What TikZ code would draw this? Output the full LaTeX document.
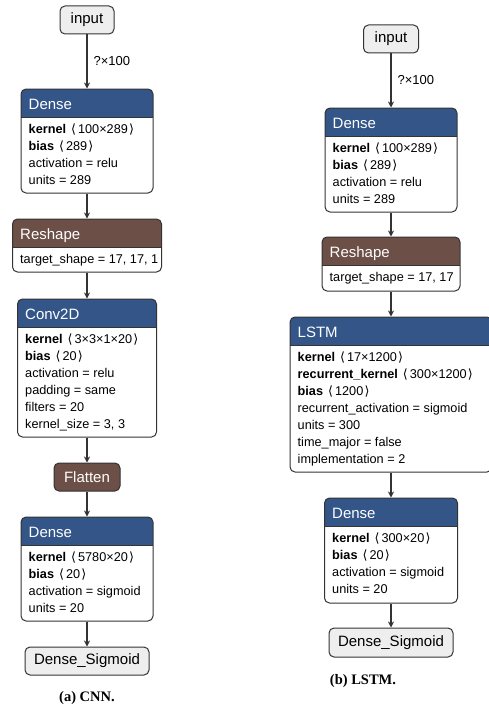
\documentclass[tikz,border=0pt]{standalone}
\usepackage{fontspec}
\setmainfont{Liberation Sans}
\newfontfamily\capfont{Liberation Serif}
\newfontfamily\brackfont{DejaVu Sans}
\usetikzlibrary{arrows.meta}

\definecolor{layerblue}{HTML}{335588}
\definecolor{shapebrown}{HTML}{6C4F47}
\definecolor{ioface}{HTML}{EEEEEE}
\definecolor{linegray}{HTML}{333333}

\newcommand{\shp}[1]{\kern1.5pt{\brackfont ⟨}\kern2pt#1\kern1.2pt{\brackfont ⟩}}
\newcommand{\attrs}[1]{\begin{tabular}[t]{@{}l@{}}#1\end{tabular}}

\tikzset{
  layer/.style={draw=linegray, line width=1pt, rounded corners=5pt, fill=white, inner sep=0pt,
    path picture={
      \fill[#1, sharp corners] (path picture bounding box.north west) rectangle ([yshift=-28pt]path picture bounding box.north east);
      \draw[linegray, line width=1pt, sharp corners] ([yshift=-28pt]path picture bounding box.north west) -- ([yshift=-28pt]path picture bounding box.north east);
    }},
  io/.style={draw=linegray, line width=1pt, rounded corners=5pt, fill=ioface, inner sep=0pt, font=\fontsize{15}{18}\selectfont},
  flat/.style={draw=linegray, line width=1pt, rounded corners=5pt, fill=shapebrown, text=white, inner sep=0pt, font=\fontsize{15}{18}\selectfont},
  title/.style={anchor=base west, text=white, inner sep=0pt, font=\fontsize{15}{18}\selectfont},
  attr/.style={anchor=base west, inner sep=0pt, font=\fontsize{12.7}{17}\selectfont},
  flow/.style={draw=linegray, line width=1.1pt, -{Stealth[length=6pt,width=6pt]}},
  dims/.style={right, inner sep=6pt, font=\fontsize{13}{16}\selectfont},
  capt/.style={inner sep=0pt, font=\capfont\bfseries\fontsize{14.5}{17}\selectfont}
}

\begin{document}
\begin{tikzpicture}[x=1pt,y=-1pt]
\useasboundingbox (0,0) rectangle (488,709);

% CNN
\begin{scope}
  \node[io, minimum width=54pt, minimum height=28pt] (cin) at (87,20) {input};

  \node[layer=layerblue, minimum width=132pt, minimum height=104pt] (cd1) at (87,141) {};
  \node[title] (cd1t) at ([xshift=8pt,yshift=-20.5pt]cd1.north west) {Dense};
  \node[attr] (cd1a) at ([xshift=8pt,yshift=-45pt]cd1.north west)
    {\attrs{\textbf{kernel} \shp{100×289}\\ \textbf{bias} \shp{289}\\ activation = relu\\ units = 289}};

  \node[layer=shapebrown, minimum width=149pt, minimum height=53pt] (crs) at (87,245.5) {};
  \node[title] (crst) at ([xshift=8pt,yshift=-20.5pt]crs.north west) {Reshape};
  \node[attr] (crsa) at ([xshift=8pt,yshift=-45pt]crs.north west) {\attrs{target\_shape = 17, 17, 1}};

  \node[layer=layerblue, minimum width=139pt, minimum height=138pt] (ccv) at (87,368) {};
  \node[title] (ccvt) at ([xshift=8pt,yshift=-20.5pt]ccv.north west) {Conv2D};
  \node[attr] (ccva) at ([xshift=8pt,yshift=-45pt]ccv.north west)
    {\attrs{\textbf{kernel} \shp{3×3×1×20}\\ \textbf{bias} \shp{20}\\ activation = relu\\ padding = same\\ filters = 20\\ kernel\_size = 3, 3}};

  \node[flat, minimum width=66pt, minimum height=28pt] (cfl) at (87,477) {Flatten};

  \node[layer=layerblue, minimum width=132pt, minimum height=104pt] (cd2) at (87,569) {};
  \node[title] (cd2t) at ([xshift=8pt,yshift=-20.5pt]cd2.north west) {Dense};
  \node[attr] (cd2a) at ([xshift=8pt,yshift=-45pt]cd2.north west)
    {\attrs{\textbf{kernel} \shp{5780×20}\\ \textbf{bias} \shp{20}\\ activation = sigmoid\\ units = 20}};

  \node[io, minimum width=124pt, minimum height=28pt] (cout) at (87,661) {Dense\_Sigmoid};

  \draw[flow] (cin) -- node[dims] {?×100} (cd1);
  \draw[flow] (cd1) -- (crs);
  \draw[flow] (crs) -- (ccv);
  \draw[flow] (ccv) -- (cfl);
  \draw[flow] (cfl) -- (cd2);
  \draw[flow] (cd2) -- (cout);

  \node[capt] (capa) at (87,698) {(a) CNN.};
\end{scope}

% LSTM
\begin{scope}
  \node[io, minimum width=55pt, minimum height=28pt] (lin) at (391,39) {input};

  \node[layer=layerblue, minimum width=132pt, minimum height=104pt] (ld1) at (391,160) {};
  \node[title] (ld1t) at ([xshift=8pt,yshift=-20.5pt]ld1.north west) {Dense};
  \node[attr] (ld1a) at ([xshift=8pt,yshift=-45pt]ld1.north west)
    {\attrs{\textbf{kernel} \shp{100×289}\\ \textbf{bias} \shp{289}\\ activation = relu\\ units = 289}};

  \node[layer=shapebrown, minimum width=138pt, minimum height=54pt] (lrs) at (391,264) {};
  \node[title] (lrst) at ([xshift=8pt,yshift=-20.5pt]lrs.north west) {Reshape};
  \node[attr] (lrsa) at ([xshift=8pt,yshift=-45pt]lrs.north west) {\attrs{target\_shape = 17, 17}};

  \node[layer=layerblue, minimum width=202pt, minimum height=155pt] (llstm) at (391,394.5) {};
  \node[title] (llstmt) at ([xshift=8pt,yshift=-20.5pt]llstm.north west) {LSTM};
  \node[attr] (llstma) at ([xshift=8pt,yshift=-45pt]llstm.north west)
    {\attrs{\textbf{kernel} \shp{17×1200}\\ \textbf{recurrent\_kernel} \shp{300×1200}\\ \textbf{bias} \shp{1200}\\ recurrent\_activation = sigmoid\\ units = 300\\ time\_major = false\\ implementation = 2}};

  \node[layer=layerblue, minimum width=133pt, minimum height=105pt] (ld2) at (391,550.5) {};
  \node[title] (ld2t) at ([xshift=8pt,yshift=-20.5pt]ld2.north west) {Dense};
  \node[attr] (ld2a) at ([xshift=8pt,yshift=-45pt]ld2.north west)
    {\attrs{\textbf{kernel} \shp{300×20}\\ \textbf{bias} \shp{20}\\ activation = sigmoid\\ units = 20}};

  \node[io, minimum width=124pt, minimum height=29pt] (lout) at (391,642.5) {Dense\_Sigmoid};

  \draw[flow] (lin) -- node[dims] {?×100} (ld1);
  \draw[flow] (ld1) -- (lrs);
  \draw[flow] (lrs) -- (llstm);
  \draw[flow] (llstm) -- (ld2);
  \draw[flow] (ld2) -- (lout);

  \node[capt] (capb) at (363,681) {(b) LSTM.};
\end{scope}
\end{tikzpicture}
\end{document}
